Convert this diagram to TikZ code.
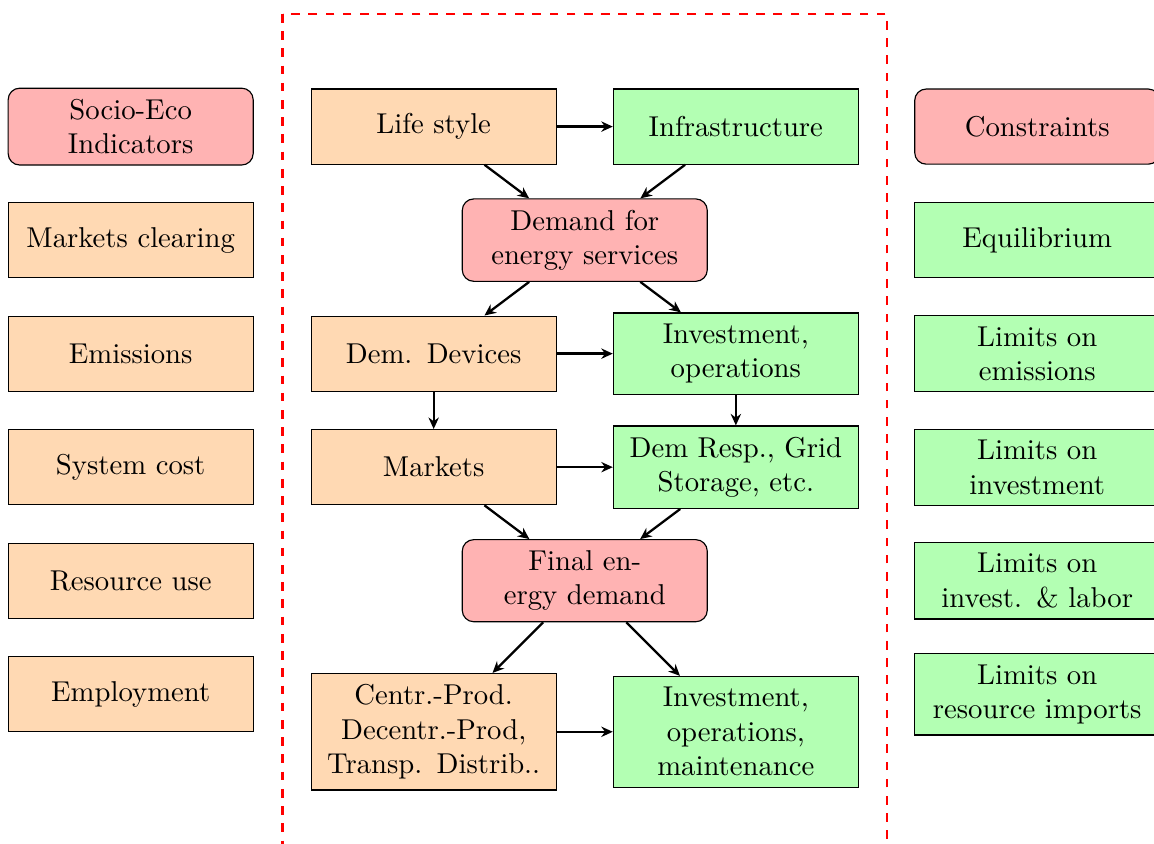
\documentclass[tikz,border=0pt]{standalone}
\usepackage{tikz}
\usetikzlibrary{arrows.meta,positioning}
\definecolor{emred}   {HTML}{FFB3B3}
\definecolor{emorange}{HTML}{FFD9B3}
\definecolor{emgreen} {HTML}{B3FFB3}
\tikzset{
  emnode/.style={draw=black, thin, minimum width=30mm, minimum height=9.2mm,
                 inner ysep=3.8pt, text width=27mm, align=center},
  emsocio/.style={emnode, fill=emred, rounded corners=4pt},
  emstage/.style={emnode, fill=emorange},
  emtech/.style={emnode, fill=emgreen},
  emedge/.style={-{Stealth[length=4pt,width=3.6pt]}, thick},
  emframe/.style={draw=red, thick, dashed},
}
\begin{document}
\begin{tikzpicture}[x=1mm,y=1mm]
  \useasboundingbox (0,0) rectangle (141.3,-103.3);
  \draw[emframe] (34.6,-1.7) rectangle (108.6,-108);

  \node[emsocio] (ind0) at (16,-15.5) {Socio-Eco Indicators};
  \foreach \lbl [count=\i] in {Markets clearing,Emissions,System cost,Resource use,Employment}
    {\node[emstage] (ind\i) at (16,{-15.5-13.9*\i}) {\lbl};}

  \node[emsocio] (con0) at (127,-15.5) {Constraints};
  \foreach \lbl [count=\i] in {Equilibrium,Limits on emissions,Limits on investment,
                               Limits on invest. \& labor,Limits on resource imports}
    {\node[emtech] (con\i) at (127,{-15.5-13.9*\i}) {\lbl};}

  \node[emstage] (life)     at (53.1,-15.5) {Life style};
  \node[emtech]  (infra)    at (90.1,-15.5) {Infrastructure};
  \node[emsocio] (demand)   at (71.6,-29.4) {Demand for energy services};
  \node[emstage] (devices)  at (53.1,-43.3) {Dem. Devices};
  \node[emtech]  (invop)    at (90.1,-43.3) {Investment, operations};
  \node[emstage] (markets)  at (53.1,-57.2) {Markets};
  \node[emtech]  (flex)     at (90.1,-57.2) {Dem Resp., Grid Storage, etc.};
  \node[emsocio] (final)    at (71.6,-71.1) {Final energy demand};
  \node[emstage] (prod)     at (53.1,-89.6)
    {Centr.-Prod. Decentr.-Prod, Transp. Distrib..};
  \node[emtech]  (invmaint) at (90.1,-89.6) {Investment, operations, maintenance};

  \foreach \a/\b in {life/infra,life/demand,infra/demand,demand/devices,demand/invop,
                     devices/invop,devices/markets,invop/flex,markets/flex,
                     markets/final,flex/final,final/prod,final/invmaint,prod/invmaint}
    {\draw[emedge] (\a) -- (\b);}
\end{tikzpicture}
\end{document}
